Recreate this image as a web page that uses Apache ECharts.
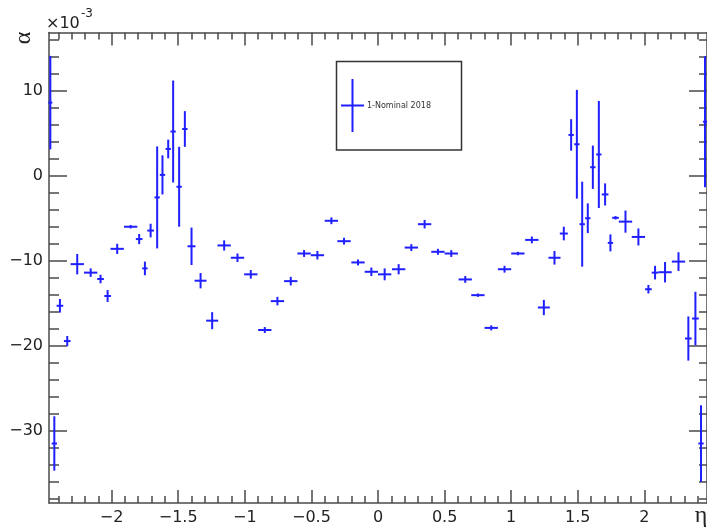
<!DOCTYPE html>
<html>
<head>
<meta charset="utf-8">
<script src="https://cdn.jsdelivr.net/npm/echarts@6/dist/echarts.min.js"></script>
<style>html,body{margin:0;padding:0;background:#fff;}#c{width:707px;height:529px;}</style>
</head>
<body>
<div id="c"></div>
<script>
// eta bin centres
var eta = [-2.46, -2.43, -2.388, -2.333, -2.258, -2.157, -2.083, -2.03, -1.958, -1.857,
  -1.793, -1.75, -1.707, -1.658, -1.618, -1.575, -1.538, -1.493, -1.45, -1.4,
  -1.332, -1.245, -1.155, -1.055, -0.955, -0.85, -0.755, -0.655, -0.555, -0.455,
  -0.35, -0.255, -0.15, -0.05, 0.05, 0.155, 0.25, 0.35, 0.45, 0.55,
  0.655, 0.75, 0.85, 0.95, 1.05, 1.155, 1.245, 1.325, 1.395, 1.45,
  1.493, 1.533, 1.575, 1.613, 1.658, 1.705, 1.745, 1.783, 1.858, 1.955,
  2.03, 2.08, 2.155, 2.256, 2.33, 2.383, 2.425, 2.455];
// half bin widths
var etaErr = [0.015, 0.02, 0.025, 0.025, 0.05, 0.05, 0.025, 0.025, 0.05, 0.05,
  0.025, 0.02, 0.025, 0.02, 0.02, 0.02, 0.02, 0.02, 0.02, 0.03,
  0.045, 0.045, 0.05, 0.05, 0.05, 0.05, 0.05, 0.05, 0.05, 0.05,
  0.05, 0.05, 0.05, 0.05, 0.05, 0.05, 0.05, 0.05, 0.05, 0.05,
  0.05, 0.05, 0.05, 0.05, 0.05, 0.05, 0.045, 0.045, 0.03, 0.02,
  0.02, 0.02, 0.02, 0.02, 0.02, 0.025, 0.02, 0.025, 0.05, 0.05,
  0.025, 0.025, 0.05, 0.05, 0.025, 0.025, 0.02, 0.015];
// alpha values (x 10^-3)
var alpha = [8.6, -31.5, -15.3, -19.45, -10.4, -11.4, -12.15, -14.15, -8.6, -6.0,
  -7.45, -10.9, -6.45, -2.55, 0.1, 3.15, 5.2, -1.3, 5.5, -8.3,
  -12.35, -17.05, -8.2, -9.65, -11.6, -18.15, -14.75, -12.4, -9.15, -9.35,
  -5.3, -7.7, -10.2, -11.3, -11.6, -11.0, -8.45, -5.7, -8.95, -9.15,
  -12.2, -14.05, -17.9, -11.0, -9.15, -7.55, -15.5, -9.65, -6.8, 4.8,
  3.7, -5.7, -5.0, 1.0, 2.5, -2.2, -7.9, -4.95, -5.4, -7.2,
  -13.35, -11.4, -11.35, -10.1, -19.15, -16.8, -31.5, 6.35];
// alpha errors (x 10^-3)
var alphaErr = [5.5, 3.2, 0.8, 0.6, 1.2, 0.5, 0.5, 0.7, 0.6, 0.2,
  0.6, 0.8, 0.8, 6.0, 2.3, 1.1, 6.0, 4.7, 2.1, 2.2,
  0.9, 1.0, 0.6, 0.5, 0.5, 0.35, 0.5, 0.5, 0.4, 0.5,
  0.4, 0.4, 0.35, 0.5, 0.7, 0.6, 0.4, 0.5, 0.35, 0.4,
  0.4, 0.2, 0.3, 0.4, 0.2, 0.4, 0.9, 0.8, 0.8, 1.85,
  6.4, 5.0, 1.75, 2.55, 6.3, 1.3, 1.0, 0.2, 1.3, 1.0,
  0.5, 0.8, 1.2, 1.1, 2.6, 3.15, 4.5, 7.7];

var xTicks = [-2, -1.5, -1, -0.5, 0, 0.5, 1, 1.5, 2];
var yTicks = [-30, -20, -10, 0, 10];
var legendLabel = '1-Nominal 2018';

var X_MIN = -2.47, X_MAX = 2.47, Y_MIN = -38.5, Y_MAX = 16.85;
var xMinor = [], yMinor = [];
for (var i = -24; i <= 24; i++) xMinor.push(i / 10);
for (var j = -19; j <= 8; j++) yMinor.push(j * 2);

var BLUE = '#1f1fff';
var FRAME = '#4a4a4a';
var FONT = 'DejaVu Sans, Liberation Sans, sans-serif';

var data = eta.map(function (e, k) { return [e, alpha[k], etaErr[k], alphaErr[k]]; });

function fmt(v) { return String(v).replace('-', '\u2212'); }

function xAx(pos, ticks, len, labels, line) {
  return {
    type: 'value', min: X_MIN, max: X_MAX, position: pos,
    axisLine: { show: line, onZero: false, lineStyle: { color: FRAME, width: 1.5 } },
    axisTick: { show: true, inside: true, length: len, customValues: ticks, lineStyle: { color: FRAME, width: 1.5 } },
    axisLabel: labels ? { show: true, customValues: xTicks, formatter: fmt, margin: 7, fontSize: 16,
      fontFamily: FONT, color: '#222' } : { show: false },
    splitLine: { show: false }
  };
}
function yAx(pos, ticks, len, labels, line) {
  return {
    type: 'value', min: Y_MIN, max: Y_MAX, position: pos,
    axisLine: { show: line, onZero: false, lineStyle: { color: FRAME, width: 1.5 } },
    axisTick: { show: true, inside: true, length: len, customValues: ticks, lineStyle: { color: FRAME, width: 1.5 } },
    axisLabel: labels ? { show: true, customValues: yTicks, formatter: fmt, margin: 6, fontSize: 16,
      fontFamily: FONT, color: '#222' } : { show: false },
    splitLine: { show: false }
  };
}

var chart = echarts.init(document.getElementById('c'), null, { renderer: 'canvas' });
chart.setOption({
  animation: false,
  backgroundColor: '#fff',
  grid: { left: 49, right: 0, top: 32.5, bottom: 26, containLabel: false },
  xAxis: [
    xAx('bottom', xTicks, 13, true, true),
    xAx('bottom', xMinor, 7, false, false),
    xAx('top', xTicks, 13, false, true),
    xAx('top', xMinor, 7, false, false)
  ],
  yAxis: [
    yAx('left', yTicks, 18, true, true),
    yAx('left', yMinor, 10, false, false),
    yAx('right', yTicks, 18, false, true),
    yAx('right', yMinor, 8, false, false)
  ],
  series: [{
    type: 'custom',
    xAxisIndex: 0, yAxisIndex: 0,
    clip: false,
    data: data,
    encode: { x: 0, y: 1 },
    renderItem: function (params, api) {
      var x = api.value(0), y = api.value(1), ex = api.value(2), ey = api.value(3);
      var l = api.coord([x - ex, y]), r = api.coord([x + ex, y]);
      var t = api.coord([x, y + ey]), b = api.coord([x, y - ey]);
      var st = { stroke: BLUE, lineWidth: 2 };
      return {
        type: 'group',
        children: [
          { type: 'line', shape: { x1: l[0], y1: l[1], x2: r[0], y2: r[1] }, style: st },
          { type: 'line', shape: { x1: t[0], y1: t[1], x2: b[0], y2: b[1] }, style: st }
        ]
      };
    }
  }],
  graphic: [
    { type: 'text', left: 46, top: 16, style: { text: '\u00d710', fontSize: 16, fontFamily: FONT, fill: '#222' } },
    { type: 'text', left: 81, top: 8, style: { text: '-3', fontSize: 12, fontFamily: FONT, fill: '#222' } },
    { type: 'text', x: 24, y: 38, rotation: Math.PI / 2, style: { text: '\u03b1', fontSize: 24, fontFamily: 'Liberation Serif, serif', fill: '#222', align: 'center', verticalAlign: 'middle' } },
    { type: 'text', x: 701, y: 516, style: { text: '\u03b7', fontSize: 24, fontFamily: 'Liberation Serif, serif', fill: '#222', align: 'center', verticalAlign: 'middle' } },
    { type: 'rect', shape: { x: 336.5, y: 61.5, width: 125, height: 88.5 }, style: { fill: 'none', stroke: '#333', lineWidth: 1.5 } },
    { type: 'line', shape: { x1: 352.5, y1: 79, x2: 352.5, y2: 132 }, style: { stroke: BLUE, lineWidth: 2 } },
    { type: 'line', shape: { x1: 341, y1: 105.5, x2: 364, y2: 105.5 }, style: { stroke: BLUE, lineWidth: 2 } },
    { type: 'text', x: 367, y: 106, style: { text: legendLabel, fontSize: 8, fontFamily: FONT, fill: '#333', verticalAlign: 'middle' } }
  ]
});
</script>
</body>
</html>
